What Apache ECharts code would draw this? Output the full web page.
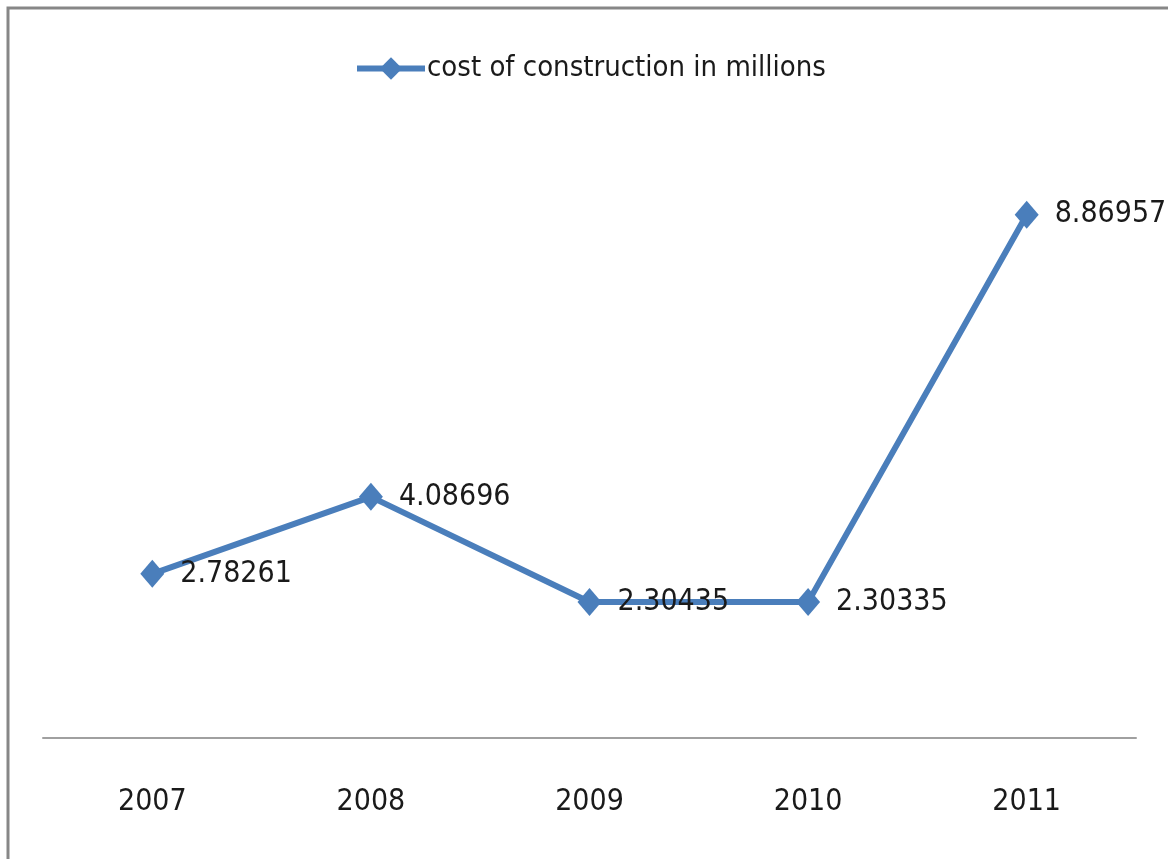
<!DOCTYPE html>
<html>
<head>
<meta charset="utf-8">
<script src="https://cdn.jsdelivr.net/npm/echarts@6/dist/echarts.min.js"></script>
<style>
  html, body { margin: 0; padding: 0; background: #ffffff; }
  #chart { width: 1168px; height: 859px; }
</style>
</head>
<body>
<div id="chart"></div>
<script>
// Yearly construction cost, in millions
const years = ['2007', '2008', '2009', '2010', '2011'];
const costMillions = [2.78261, 4.08696, 2.30435, 2.30335, 8.86957];
const seriesName = 'cost of construction in millions';

const FONT = "'Liberation Sans Narrow', 'DejaVu Sans Condensed', 'Liberation Sans', sans-serif";
const BLUE = '#4a7ebb';

const chart = echarts.init(document.getElementById('chart'), null, { renderer: 'canvas' });

chart.setOption({
  backgroundColor: '#ffffff',
  animation: false,
  graphic: [
    {
      // outer chart frame (left and top edges visible)
      type: 'rect',
      shape: { x: 8, y: 8, width: 1300, height: 1000 },
      style: { fill: 'none', stroke: '#878787', lineWidth: 3 },
      silent: true
    }
  ],
  legend: {
    left: 349,
    top: 49,
    itemWidth: 68,
    itemHeight: 28,
    itemGap: 10,
    lineStyle: { width: 6 },
    textStyle: { fontFamily: FONT, fontSize: 29, color: '#1a1a1a', padding: [0, 0, 0, -3] },
    data: [seriesName]
  },
  grid: { left: 43, right: 32, top: 148, bottom: 121, containLabel: false },
  xAxis: {
    type: 'category',
    data: years,
    boundaryGap: true,
    axisLine: { show: true, lineStyle: { color: '#a0a0a0', width: 2 } },
    axisTick: { show: false },
    axisLabel: { margin: 49, fontFamily: FONT, fontSize: 30, color: '#1a1a1a' },
    splitLine: { show: false }
  },
  yAxis: {
    type: 'value',
    min: 0,
    max: 10,
    show: false,
    splitLine: { show: false }
  },
  series: [
    {
      name: seriesName,
      type: 'line',
      data: costMillions,
      symbol: 'diamond',
      symbolSize: [24, 28],
      itemStyle: { color: BLUE },
      lineStyle: { color: BLUE, width: 6 },
      label: {
        show: true,
        position: 'right',
        distance: 16,
        fontFamily: FONT,
        fontSize: 30,
        color: '#1a1a1a',
        formatter: (p) => String(p.value)
      },
      z: 3
    }
  ]
});
</script>
</body>
</html>
